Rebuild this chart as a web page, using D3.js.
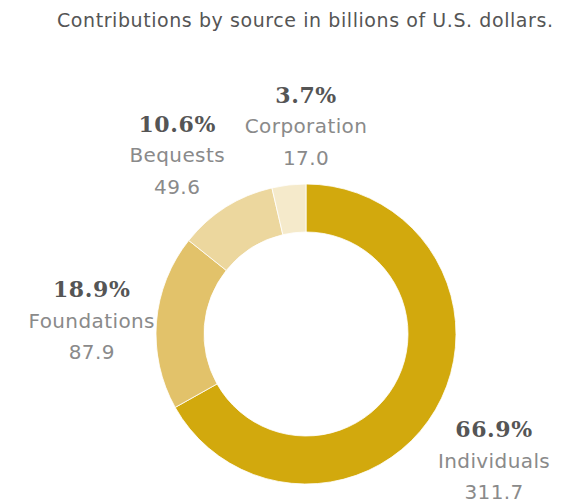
<!DOCTYPE html>
<html>
<head>
<meta charset="utf-8">
<script src="https://cdn.jsdelivr.net/npm/d3@7"></script>
<style>
  html, body { margin: 0; padding: 0; background: #fff; }
  svg { display: block; }
</style>
</head>
<body>
<svg id="chart" width="573" height="504"></svg>
<script>
// Contributions by source (billions of U.S. dollars)
const sources = ["Individuals", "Foundations", "Bequests", "Corporation"];
const amounts = [311.7, 87.9, 49.6, 17.0];
const shareLabels = ["66.9%", "18.9%", "10.6%", "3.7%"];
const sliceColors = ["#d2a90d", "#e2c26a", "#ecd79e", "#f5eacb"];

const title = "Contributions by source in billions of U.S. dollars.";

const width = 573, height = 504;
const cx = 306, cy = 334;
const outerR = 150, innerR = 102;

const sansFont = "'DejaVu Sans', 'Noto Sans', sans-serif";
const serifFont = "'DejaVu Serif', 'Liberation Serif', serif";

const svg = d3.select("#chart");

svg.append("text")
  .attr("x", 305)
  .attr("y", 27)
  .attr("text-anchor", "middle")
  .attr("font-family", sansFont)
  .attr("font-size", 19)
  .attr("textLength", 496)
  .attr("lengthAdjust", "spacing")
  .attr("fill", "#555")
  .text(title);

const rows = sources.map((s, i) => ({ source: s, amount: amounts[i], share: shareLabels[i], color: sliceColors[i] }));

const pie = d3.pie().value(d => d.amount).sort(null);
const arc = d3.arc().innerRadius(innerR).outerRadius(outerR);
const arcs = pie(rows);

const g = svg.append("g").attr("transform", `translate(${cx},${cy})`);

g.selectAll("path.slice")
  .data(arcs)
  .join("path")
  .attr("class", "slice")
  .attr("d", arc)
  .attr("fill", d => d.data.color)
  .attr("stroke", "#fff")
  .attr("stroke-width", 0.8);

// Label blocks sit outside the ring along each slice's mid-angle,
// nudged so they clear the ring and each other.
const labelRadius = 215;
const nudge = {
  Individuals: [2.5, 25],
  Foundations: [0, 11],
  Bequests: [-14, 10],
  Corporation: [24.6, 12.6]
};

const labels = g.selectAll("g.label")
  .data(arcs)
  .join("g")
  .attr("class", "label")
  .attr("transform", d => {
    const a = (d.startAngle + d.endAngle) / 2;
    const n = nudge[d.data.source];
    const x = Math.sin(a) * labelRadius + n[0];
    const y = -Math.cos(a) * labelRadius + n[1];
    return `translate(${x},${y})`;
  });

labels.append("text")
  .attr("y", -30.5)
  .attr("text-anchor", "middle")
  .attr("font-family", serifFont)
  .attr("font-weight", "bold")
  .attr("font-size", 22)
  .attr("letter-spacing", 0.6)
  .attr("fill", "#555")
  .text(d => d.data.share);

labels.append("text")
  .attr("y", 0)
  .attr("text-anchor", "middle")
  .attr("font-family", sansFont)
  .attr("font-size", 20)
  .attr("letter-spacing", 0.4)
  .attr("fill", "#8a8a8a")
  .text(d => d.data.source);

labels.append("text")
  .attr("y", 31.5)
  .attr("text-anchor", "middle")
  .attr("font-family", sansFont)
  .attr("font-size", 20)
  .attr("letter-spacing", 0.4)
  .attr("fill", "#8a8a8a")
  .text(d => d.data.amount.toFixed(1));
</script>
</body>
</html>
